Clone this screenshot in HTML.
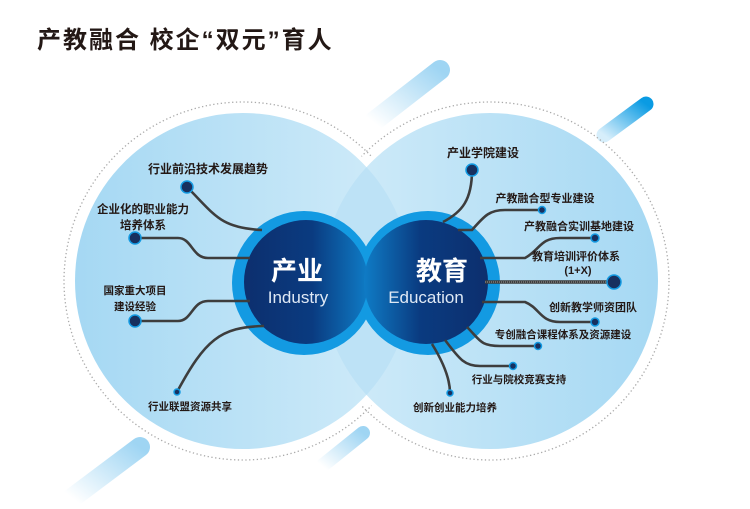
<!DOCTYPE html>
<html><head><meta charset="utf-8"><style>
html,body{margin:0;padding:0;background:#fff;}
svg{display:block;}
text{font-family:"Liberation Sans","Noto Sans CJK SC",sans-serif;}
</style></head><body>
<svg width="750" height="509" viewBox="0 0 750 509" xmlns="http://www.w3.org/2000/svg">
<defs>
<linearGradient id="gL" x1="0" x2="1" y1="0" y2="0"><stop offset="0" stop-color="#a5d8f3"/><stop offset="1" stop-color="#d2ecf9"/></linearGradient>
<linearGradient id="gR" x1="0" x2="1" y1="0" y2="0"><stop offset="0" stop-color="#d2ecf9"/><stop offset="1" stop-color="#a5d8f3"/></linearGradient>
<linearGradient id="dL" x1="0" x2="1" y1="0" y2="0"><stop offset="0" stop-color="#0d2f6e"/><stop offset="0.55" stop-color="#0a3b80"/><stop offset="1" stop-color="#0f7cc6"/></linearGradient>
<linearGradient id="dR" x1="0" x2="1" y1="0" y2="0"><stop offset="0" stop-color="#0f7cc6"/><stop offset="0.45" stop-color="#0a3b80"/><stop offset="1" stop-color="#0d2f6e"/></linearGradient>
<linearGradient id="bar1" x1="0" y1="1" x2="1" y2="0"><stop offset="0" stop-color="#ffffff"/><stop offset="1" stop-color="#9fd5f3"/></linearGradient>
<linearGradient id="bar2" x1="0" y1="1" x2="1" y2="0"><stop offset="0" stop-color="#d6eefb"/><stop offset="1" stop-color="#0a9be3"/></linearGradient>
<clipPath id="cl"><circle cx="243" cy="281" r="168"/></clipPath>
</defs>
<text x="37" y="48" font-size="24" font-weight="bold" fill="#231815" letter-spacing="2">产教融合 校企“双元”育人</text>

<!-- bars -->
<line x1="373" y1="122" x2="440" y2="70" stroke="url(#bar1)" stroke-width="20" stroke-linecap="round"/>
<line x1="604" y1="135" x2="646" y2="104" stroke="url(#bar2)" stroke-width="15" stroke-linecap="round"/>
<line x1="72" y1="498" x2="140" y2="447" stroke="url(#bar1)" stroke-width="20" stroke-linecap="round"/>
<line x1="322" y1="466" x2="363" y2="433" stroke="url(#bar1)" stroke-width="14" stroke-linecap="round"/>

<!-- dotted rings -->
<circle cx="243" cy="281" r="179" fill="none" stroke="#aaa" stroke-width="1.3" stroke-dasharray="1.3 2.5"/>
<circle cx="490" cy="281" r="179" fill="none" stroke="#aaa" stroke-width="1.3" stroke-dasharray="1.3 2.5"/>
<circle cx="243" cy="281" r="172" fill="#fff"/>
<circle cx="490" cy="281" r="172" fill="#fff"/>

<circle cx="243" cy="281" r="168" fill="url(#gL)"/>
<circle cx="490" cy="281" r="168" fill="url(#gR)"/>
<circle cx="490" cy="281" r="168" fill="#bde2f6" clip-path="url(#cl)"/>

<!-- inner circles -->
<circle cx="304" cy="283" r="72" fill="#139ae2"/>
<circle cx="428" cy="283" r="72" fill="#139ae2"/>
<circle cx="306" cy="282" r="62" fill="url(#dL)"/>
<circle cx="426" cy="282" r="62" fill="url(#dR)"/>
<text x="297" y="280" font-size="26" font-weight="bold" fill="#fff" text-anchor="middle">产业</text>
<text x="298" y="303" font-size="17" fill="#dfe9f5" text-anchor="middle">Industry</text>
<text x="442" y="280" font-size="26" font-weight="bold" fill="#fff" text-anchor="middle">教育</text>
<text x="426" y="303" font-size="17" fill="#dfe9f5" text-anchor="middle">Education</text>

<!-- connectors -->
<g fill="none" stroke="#3d3d3d" stroke-width="2.6">
<path d="M187,187 C215,215 220,228 262,230"/>
<path d="M135,238 L178,238 C192,238 192,258 208,258 L250,258"/>
<path d="M135,321 L178,321 C192,321 192,301 208,301 L250,301"/>
<path d="M177,392 C205,340 220,327 264,326"/>
<path d="M472,170 C472,200 462,212 443,222"/>
<path d="M458,230 L472,230 C485,215 490,210 505,210 L542,210"/>
<path d="M480,258 L525,258 C540,250 540,238 560,238 L595,238"/>
<path d="M482,302 L525,302 C540,308 540,322 560,322 L595,322"/>
<path d="M467,327 C480,340 480,346 500,346 L538,346"/>
<path d="M445,340 C460,360 465,366 480,366 L513,366"/>
<path d="M432,344 C445,365 450,380 450,393"/>
</g>
<line x1="485" y1="282" x2="614" y2="282" stroke="#3d3d3d" stroke-width="3.5"/>
<line x1="485" y1="282" x2="610" y2="282" stroke="#8a8a8a" stroke-width="1.2" stroke-dasharray="1 1"/>
<g fill="#17305f" stroke="#139ae2" stroke-width="1.5">
<circle cx="187" cy="187" r="6"/>
<circle cx="135" cy="238" r="6"/>
<circle cx="135" cy="321" r="6"/>
<circle cx="177" cy="392" r="3"/>
<circle cx="472" cy="170" r="6"/>
<circle cx="542" cy="210" r="3.5"/>
<circle cx="595" cy="238" r="4"/>
<circle cx="614" cy="282" r="7"/>
<circle cx="595" cy="322" r="4"/>
<circle cx="538" cy="346" r="3.5"/>
<circle cx="513" cy="366" r="3.5"/>
<circle cx="450" cy="393" r="3"/>
</g>

<g font-weight="bold" fill="#231815" text-anchor="middle">
<text x="208" y="173" font-size="12">行业前沿技术发展趋势</text>
<text x="143" y="213" font-size="11.5">企业化的职业能力</text>
<text x="143" y="229" font-size="11.5">培养体系</text>
<text x="135" y="294" font-size="10.5">国家重大项目</text>
<text x="135" y="310" font-size="10.5">建设经验</text>
<text x="190" y="410" font-size="10.5">行业联盟资源共享</text>
<text x="483" y="157" font-size="12">产业学院建设</text>
<text x="545" y="202" font-size="11">产教融合型专业建设</text>
<text x="579" y="230" font-size="11">产教融合实训基地建设</text>
<text x="576" y="260" font-size="11">教育培训评价体系</text>
<text x="578" y="274" font-size="11">(1+X)</text>
<text x="593" y="311" font-size="11">创新教学师资团队</text>
<text x="563" y="338" font-size="10.5">专创融合课程体系及资源建设</text>
<text x="519" y="383" font-size="10.5">行业与院校竞赛支持</text>
<text x="455" y="411" font-size="10.5">创新创业能力培养</text>
</g>
</svg>
</body></html>
